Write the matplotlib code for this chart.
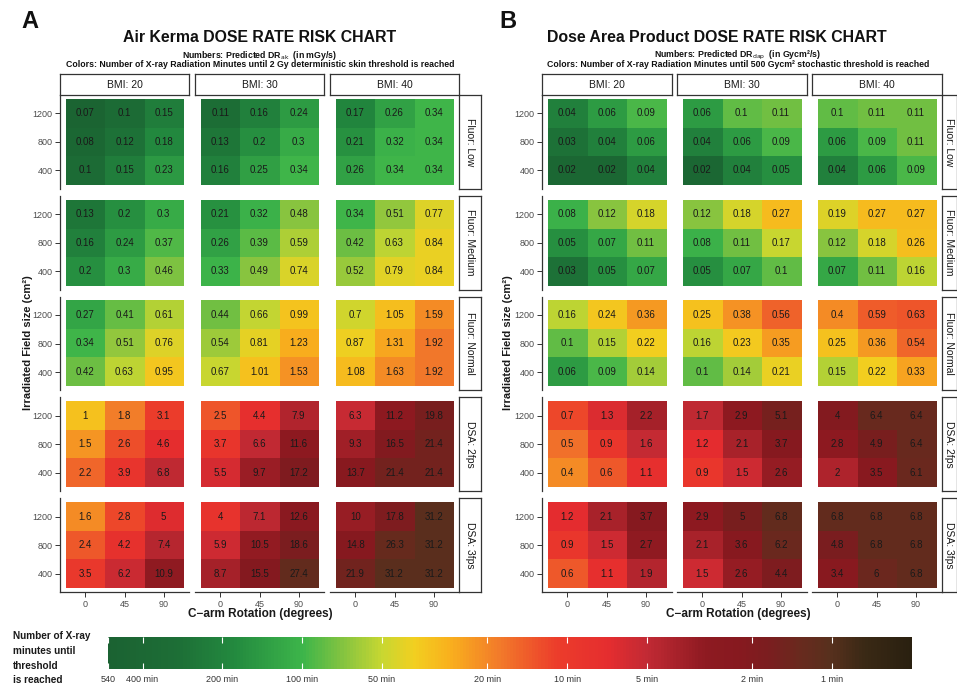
import numpy as np
import matplotlib
matplotlib.use('Agg')
import matplotlib.pyplot as plt
from matplotlib.colors import LinearSegmentedColormap, LogNorm
from matplotlib.cm import ScalarMappable

plt.rcParams['font.family'] = ['Liberation Sans', 'DejaVu Sans']

# ---------------- data ----------------
rotations = [0, 45, 90]
field_sizes = [1200, 800, 400]          # rows, top to bottom
bmi_labels = ['BMI: 20', 'BMI: 30', 'BMI: 40']
mode_labels = ['Fluor: Low', 'Fluor: Medium', 'Fluor: Normal', 'DSA: 2fps', 'DSA: 3fps']

# Air kerma dose rates (mGy/s): [BMI20, BMI30, BMI40], each rows 1200/800/400 x cols 0/45/90
ak_low = [[[0.07, 0.1, 0.15], [0.08, 0.12, 0.18], [0.1, 0.15, 0.23]],
          [[0.11, 0.16, 0.24], [0.13, 0.2, 0.3], [0.16, 0.25, 0.34]],
          [[0.17, 0.26, 0.34], [0.21, 0.32, 0.34], [0.26, 0.34, 0.34]]]
ak_medium = [[[0.13, 0.2, 0.3], [0.16, 0.24, 0.37], [0.2, 0.3, 0.46]],
             [[0.21, 0.32, 0.48], [0.26, 0.39, 0.59], [0.33, 0.49, 0.74]],
             [[0.34, 0.51, 0.77], [0.42, 0.63, 0.84], [0.52, 0.79, 0.84]]]
ak_normal = [[[0.27, 0.41, 0.61], [0.34, 0.51, 0.76], [0.42, 0.63, 0.95]],
             [[0.44, 0.66, 0.99], [0.54, 0.81, 1.23], [0.67, 1.01, 1.53]],
             [[0.7, 1.05, 1.59], [0.87, 1.31, 1.92], [1.08, 1.63, 1.92]]]
ak_dsa2 = [[[1, 1.8, 3.1], [1.5, 2.6, 4.6], [2.2, 3.9, 6.8]],
           [[2.5, 4.4, 7.9], [3.7, 6.6, 11.6], [5.5, 9.7, 17.2]],
           [[6.3, 11.2, 19.8], [9.3, 16.5, 21.4], [13.7, 21.4, 21.4]]]
ak_dsa3 = [[[1.6, 2.8, 5], [2.4, 4.2, 7.4], [3.5, 6.2, 10.9]],
           [[4, 7.1, 12.6], [5.9, 10.5, 18.6], [8.7, 15.5, 27.4]],
           [[10, 17.8, 31.2], [14.8, 26.3, 31.2], [21.9, 31.2, 31.2]]]

# Dose area product rates (Gycm2/s)
dap_low = [[[0.04, 0.06, 0.09], [0.03, 0.04, 0.06], [0.02, 0.02, 0.04]],
           [[0.06, 0.1, 0.11], [0.04, 0.06, 0.09], [0.02, 0.04, 0.05]],
           [[0.1, 0.11, 0.11], [0.06, 0.09, 0.11], [0.04, 0.06, 0.09]]]
dap_medium = [[[0.08, 0.12, 0.18], [0.05, 0.07, 0.11], [0.03, 0.05, 0.07]],
              [[0.12, 0.18, 0.27], [0.08, 0.11, 0.17], [0.05, 0.07, 0.1]],
              [[0.19, 0.27, 0.27], [0.12, 0.18, 0.26], [0.07, 0.11, 0.16]]]
dap_normal = [[[0.16, 0.24, 0.36], [0.1, 0.15, 0.22], [0.06, 0.09, 0.14]],
              [[0.25, 0.38, 0.56], [0.16, 0.23, 0.35], [0.1, 0.14, 0.21]],
              [[0.4, 0.59, 0.63], [0.25, 0.36, 0.54], [0.15, 0.22, 0.33]]]
dap_dsa2 = [[[0.7, 1.3, 2.2], [0.5, 0.9, 1.6], [0.4, 0.6, 1.1]],
            [[1.7, 2.9, 5.1], [1.2, 2.1, 3.7], [0.9, 1.5, 2.6]],
            [[4, 6.4, 6.4], [2.8, 4.9, 6.4], [2, 3.5, 6.1]]]
dap_dsa3 = [[[1.2, 2.1, 3.7], [0.9, 1.5, 2.7], [0.6, 1.1, 1.9]],
            [[2.9, 5, 6.8], [2.1, 3.6, 6.2], [1.5, 2.6, 4.4]],
            [[6.8, 6.8, 6.8], [4.8, 6.8, 6.8], [3.4, 6, 6.8]]]

ak_threshold = 2000.0     # mGy (2 Gy)
dap_threshold = 500.0     # Gycm2

cbar_ticks = [540, 400, 200, 100, 50, 20, 10, 5, 2, 1]
cbar_labels = ['540', '400 min', '200 min', '100 min', '50 min', '20 min',
               '10 min', '5 min', '2 min', '1 min']

# ---------------- colours ----------------
VMIN, VMAX = 0.5, 540.0
anchor_min = [0.5, 0.75, 1.0, 1.3, 1.7, 2.2, 3.0, 5.0, 7.0, 11.0, 18.0, 28.0, 38.0, 50.0,
              70.0, 100.0, 180.0, 300.0, 540.0]
anchor_col = ['#2a2010', '#3a2915', '#57301d', '#682a1e', '#7a1e1f', '#86191f', '#8e1a21',
              '#c22a34', '#e52d2f', '#ec3d2b', '#f27a2a', '#f9b11d', '#f2cf20', '#c8d731',
              '#86c440', '#3db54a', '#238a3f', '#1d6e36', '#1b6232']
lo, hi = np.log10(VMIN), np.log10(VMAX)
pos = [(np.log10(m) - lo) / (hi - lo) for m in anchor_min]
cmap = LinearSegmentedColormap.from_list('risk', list(zip(pos, anchor_col)))
norm = LogNorm(vmin=VMIN, vmax=VMAX)

# ---------------- layout ----------------
W, H = 957, 687
fig = plt.figure(figsize=(W / 100, H / 100), dpi=100)


def add_ax(x0, y0, x1, y1):
    return fig.add_axes([x0 / W, 1 - y1 / H, (x1 - x0) / W, (y1 - y0) / H])


row_top = [95 + i * 100.8 for i in range(5)]
row_h = 93.8
TXT = '#1a1a1a'


def draw_chart(col_left, col_w, strip_w, modes, threshold, title, sub1, sub2, letter,
               letter_x, title_x, center_x, ylab_x):
    for r, mode in enumerate(modes):
        for c in range(3):
            x0 = col_left[c]
            y0 = row_top[r]
            ax = add_ax(x0, y0, x0 + col_w, y0 + row_h)
            rates = np.array(mode[c], dtype=float)
            minutes = threshold / (rates * 60.0)
            ax.imshow(minutes, cmap=cmap, norm=norm, aspect='auto',
                      extent=(-0.5, 2.5, -0.5, 2.5), origin='upper',
                      interpolation='nearest')
            for i in range(3):
                for j in range(3):
                    ax.text(j, 2 - i, '{:g}'.format(rates[i, j]), ha='center',
                            va='center', fontsize=7, color=TXT)
            ax.set_xlim(-0.646, 2.646)
            ax.set_ylim(-0.64, 2.64)
            for s in ax.spines.values():
                s.set_visible(False)
            ax.set_xticks(range(3))
            ax.set_yticks(range(3))
            ax.tick_params(length=3.5, width=0.7, color='#333333',
                           labelsize=6.5, labelcolor='#4d4d4d', pad=2)
            if c == 0:
                ax.spines['left'].set_visible(True)
                ax.spines['left'].set_color('#333333')
                ax.spines['left'].set_linewidth(0.9)
                ax.set_yticklabels([str(v) for v in field_sizes[::-1]])
            else:
                ax.tick_params(left=False, labelleft=False)
            if r == 4:
                ax.spines['bottom'].set_visible(True)
                ax.spines['bottom'].set_color('#333333')
                ax.spines['bottom'].set_linewidth(0.9)
                ax.set_xticklabels([str(v) for v in rotations])
            else:
                ax.tick_params(bottom=False, labelbottom=False)
        # right strip
        xs = col_left[2] + col_w
        sax = add_ax(xs, row_top[r], xs + strip_w, row_top[r] + row_h)
        sax.set_xticks([]); sax.set_yticks([])
        for s in sax.spines.values():
            s.set_color('#333333'); s.set_linewidth(0.9)
        sax.text(0.5, 0.5, mode_labels[r], rotation=-90, ha='center', va='center',
                 fontsize=7.5, color=TXT, transform=sax.transAxes)
    # top strips
    for c in range(3):
        x0 = col_left[c]
        sax = add_ax(x0, 74, x0 + col_w, 95)
        sax.set_xticks([]); sax.set_yticks([])
        for s in sax.spines.values():
            s.set_color('#333333'); s.set_linewidth(0.9)
        sax.text(0.5, 0.5, bmi_labels[c], ha='center', va='center', fontsize=7.5,
                 color=TXT, transform=sax.transAxes)
    # titles
    fig.text(title_x / W, 1 - 38 / H, title, ha='center', va='center',
             fontsize=11.4, fontweight='bold', color='#111111')
    fig.text(center_x / W, 1 - 55 / H, sub1, ha='center', va='center',
             fontsize=6.3, fontweight='bold', color='#111111')
    fig.text(center_x / W, 1 - 64.5 / H, sub2, ha='center', va='center',
             fontsize=6.3, fontweight='bold', color='#111111')
    fig.text(letter_x / W, 1 - 22 / H, letter, ha='left', va='center',
             fontsize=17, fontweight='bold', color='#111111')
    fig.text(ylab_x / W, 1 - 343 / H, 'Irradiated Field size (cm²)', rotation=90,
             ha='center', va='center', fontsize=8, fontweight='bold', color=TXT)
    fig.text(center_x / W, 1 - 614 / H, 'C\u2212arm Rotation (degrees)',
             ha='center', va='center', fontsize=8.5, fontweight='bold', color=TXT)


draw_chart([60, 195, 330], 129, 22,
           [ak_low, ak_medium, ak_normal, ak_dsa2, ak_dsa3], ak_threshold,
           'Air Kerma DOSE RATE RISK CHART',
           r'Numbers: Predicted DR$_{\mathrm{ak}}$  (in mGy/s)',
           'Colors: Number of X-ray Radiation Minutes until 2 Gy deterministic skin threshold is reached',
           'A', 21, 260, 260, 28)

draw_chart([542, 677, 812], 129.5, 15.5,
           [dap_low, dap_medium, dap_normal, dap_dsa2, dap_dsa3], dap_threshold,
           'Dose Area Product DOSE RATE RISK CHART',
           r'Numbers: Predicted DR$_{\mathrm{dap}}$  (in Gycm²/s)',
           'Colors: Number of X-ray Radiation Minutes until 500 Gycm² stochastic threshold is reached',
           'B', 499, 717, 738, 508)

# ---------------- colour bar ----------------
cax = add_ax(108, 637, 912, 669)
sm = ScalarMappable(norm=norm, cmap=cmap)
cb = fig.colorbar(sm, cax=cax, orientation='horizontal')
cb.outline.set_visible(False)
cax.invert_xaxis()
cax.minorticks_off()
cax.set_xticks(cbar_ticks)
cax.set_xticklabels(cbar_labels)
cax.tick_params(axis='x', direction='in', length=4, width=0.8, color='white',
                top=True, bottom=True, labelsize=6.5, labelcolor='#333333', pad=4)
cax.minorticks_off()

fig.text(13 / W, 1 - 631 / H, 'Number of X-ray\nminutes until\nthreshold\nis reached',
         ha='left', va='top', fontsize=7.2, fontweight='bold', color=TXT,
         linespacing=1.6)

fig.savefig('out.png', dpi=100)
